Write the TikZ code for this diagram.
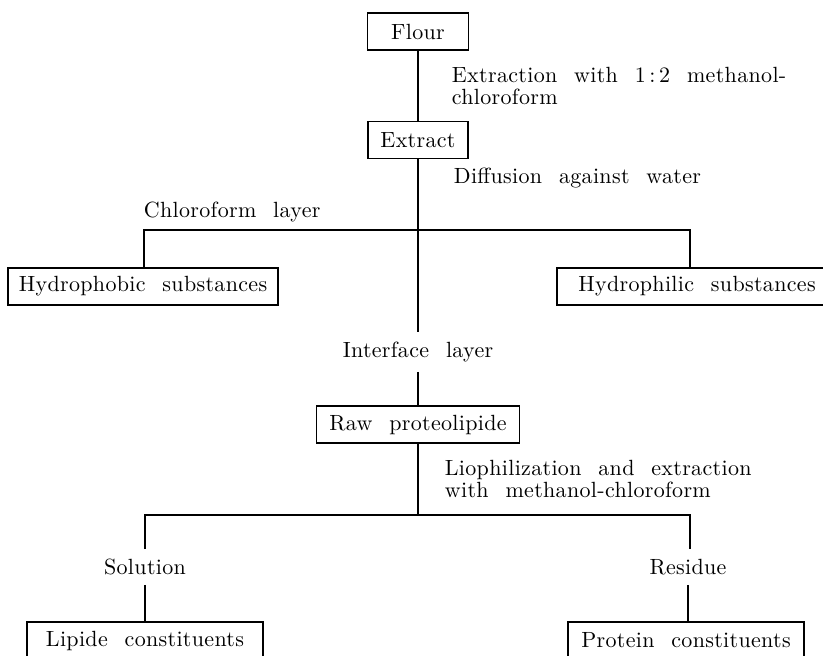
\documentclass[tikz,border=0pt]{standalone}
\usepackage{fontspec}
\setmainfont{lmroman10-regular.otf}[WordSpace=2.2, LetterSpace=1.5]
\usetikzlibrary{positioning, calc}
\tikzset{
  every picture/.style={line width=0.9pt},
  box/.style={draw, inner sep=0pt, minimum height=18.5pt, font=\fontsize{11}{11}\selectfont},
  note/.style={inner sep=0pt, align=left, font=\fontsize{11}{11}\selectfont},
  layer/.style={inner xsep=0pt, inner ysep=4.5pt, font=\fontsize{11}{11}\selectfont},
}

\begin{document}
\begin{tikzpicture}[x=0.5pt, y=-0.5pt]
  \clip (0,0) rectangle (823,655);
  \node[box, minimum width=50.5pt] (flour) at (418,31.5) {Flour};
  \node[box, minimum width=50pt] (extract) at (418,140) {Extract};
  \node[box, minimum width=135pt] (phobic) at (143,286.5) {Hydrophobic substances};
  \node[box, minimum width=140pt] (philic) at (697,286.5) {Hydrophilic substances};
  \node[layer] (interface) at (418,352) {Interface layer};
  \node[box, minimum width=101.5pt] (raw) at (418,424.5) {Raw proteolipide};
  \node[layer] (solution) at (145,567) {Solution};
  \node[layer] (residue) at (688,567) {Residue};
  \node[box, minimum width=118pt] (lipide) at (145,640.5) {Lipide constituents};
  \node[box, minimum width=118pt] (protein) at (686,640.5) {Protein constituents};
  % steps beside the lines
  \node[note, anchor=west] (extraction) at (451,86) {Extraction with 1\,:\,2 methanol-\\chloroform};
  \node[note, anchor=west] (diffusion) at (453,178) {Diffusion against water};
  \node[note, anchor=west] (chloro) at (143,212) {Chloroform layer};
  \node[note, anchor=west] (lioph) at (444,478.5) {Liophilization and extraction\\with methanol-chloroform};
  % forks
  \coordinate (fork1l) at (144,230);
  \coordinate (fork1r) at (690,230);
  \coordinate (fork2l) at (145,515);
  \coordinate (fork2r) at (690,515);
  \draw (flour) -- (extract);
  \draw (extract.south) -- (interface.north);
  \draw (phobic.north -| fork1l) |- (fork1r) -- (philic.north -| fork1r);
  \draw (interface.south) -- (raw.north);
  \draw (raw.south) -- (raw.south |- fork2l);
  \draw (solution.north -| fork2l) |- (fork2r) -- (residue.north -| fork2r);
  \draw (solution.south) -- (solution.south |- lipide.north);
  \draw (residue.south) -- (residue.south |- protein.north);
\end{tikzpicture}
\end{document}
